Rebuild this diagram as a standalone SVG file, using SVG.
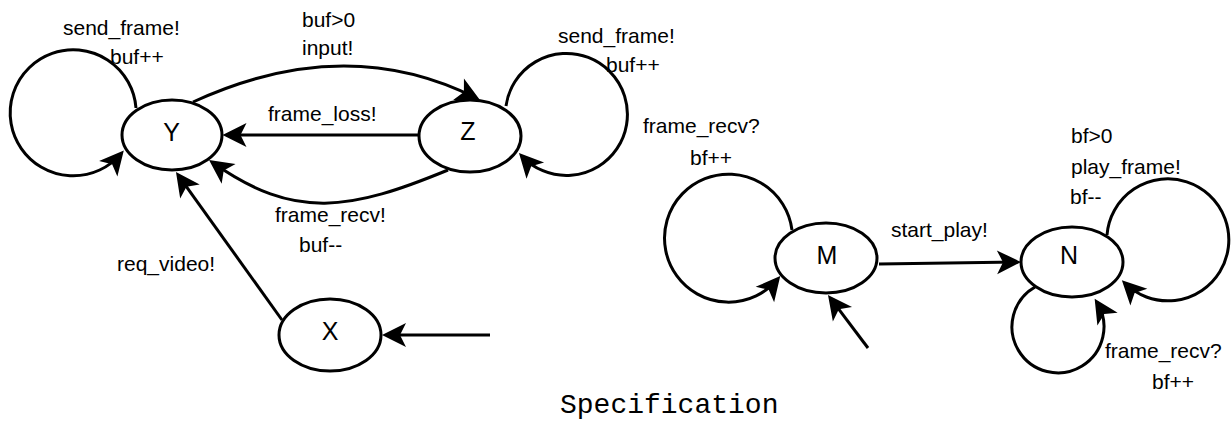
<svg xmlns="http://www.w3.org/2000/svg" width="1231" height="430" viewBox="0 0 1231 430">
  <style>
    .state ellipse { fill: #ffffff; stroke: #000000; stroke-width: 3; }
    .state text { font-family: "Liberation Sans", Arial, sans-serif; font-size: 25px; fill: #000000; text-anchor: middle; }
    .edge path { fill: none; stroke: #000000; stroke-width: 3; marker-end: url(#arrow); }
    .edge text, .lbl { font-family: "Liberation Sans", Arial, sans-serif; font-size: 21px; fill: #000000; }
    .title { font-family: "Liberation Mono", "Courier New", monospace; font-size: 28px; fill: #000000; }
  </style>
  <defs>
    <!-- notched arrowhead; its tip sits 4px beyond the path end -->
    <marker id="arrow" markerUnits="userSpaceOnUse" viewBox="-22 -13 28 26" markerWidth="28" markerHeight="26" refX="0" refY="0" orient="auto" overflow="visible">
      <path d="M4,0 L-20,-12 L-14,0 L-20,12 Z" fill="#000000"/>
    </marker>
  </defs>

  <rect x="0" y="0" width="1231" height="430" fill="#ffffff"/>

  <!-- states -->
  <g id="state-Y" class="state">
    <ellipse cx="172" cy="135" rx="50" ry="35"/>
    <text x="171.5" y="140.5">Y</text>
  </g>
  <g id="state-Z" class="state">
    <ellipse cx="470" cy="136" rx="51" ry="36"/>
    <text x="468" y="140">Z</text>
  </g>
  <g id="state-X" class="state">
    <ellipse cx="330" cy="335" rx="51" ry="36"/>
    <text x="330" y="340">X</text>
  </g>
  <g id="state-M" class="state">
    <ellipse cx="826" cy="258" rx="51" ry="35"/>
    <text x="827" y="264">M</text>
  </g>
  <g id="state-N" class="state">
    <ellipse cx="1072" cy="262" rx="51" ry="35"/>
    <text x="1069" y="263.5">N</text>
  </g>

  <!-- transitions -->
  <g id="connectors">
    <g id="edge-Y-Y" class="edge">
      <path d="M136,108 A63,63 0 1,0 121.2,153.6"/>
      <text x="63" y="35">send_frame!</text>
      <text x="110" y="64">buf++</text>
    </g>
    <g id="edge-Y-Z" class="edge">
      <path d="M193,102 Q345,32 476.4,98.2"/>
      <text x="302" y="27">buf&gt;0</text>
      <text x="302" y="55">input!</text>
    </g>
    <g id="edge-Z-Y-loss" class="edge">
      <path d="M419,135 L226.5,135"/>
      <text x="268" y="121">frame_loss!</text>
    </g>
    <g id="edge-Z-Y-recv" class="edge">
      <path d="M448,170 C351,210 295,221 212.3,162.3"/>
      <text x="275" y="221.5">frame_recv!</text>
      <text x="299" y="251.5">buf--</text>
    </g>
    <g id="edge-Z-Z" class="edge">
      <path d="M506,106 A61,61 0 1,1 521.7,155.9"/>
      <text x="558" y="43">send_frame!</text>
      <text x="606" y="71.5">buf++</text>
    </g>
    <g id="edge-X-Y" class="edge">
      <path d="M282,320 L178.3,175.3"/>
      <text x="117" y="271">req_video!</text>
    </g>
    <g id="edge-init-X" class="edge">
      <path d="M490,335 L386,335"/>
    </g>
    <g id="edge-M-M" class="edge">
      <path d="M792,230 A64,64 0 1,0 777.7,279.1"/>
      <text x="643" y="133">frame_recv?</text>
      <text x="690" y="165">bf++</text>
    </g>
    <g id="edge-init-M" class="edge">
      <path d="M868,348 L830.4,298.2"/>
    </g>
    <g id="edge-M-N" class="edge">
      <path d="M879,264 L1017,262.1"/>
      <text x="891" y="237">start_play!</text>
    </g>
    <g id="edge-N-N-play" class="edge">
      <path d="M1107,235 A61,61 0 1,1 1124.7,283"/>
      <text x="1071" y="143">bf&gt;0</text>
      <text x="1071" y="174">play_frame!</text>
      <text x="1070" y="204">bf--</text>
    </g>
    <g id="edge-N-N-recv" class="edge">
      <path d="M1035,287 A46,46 0 1,0 1096.8,302.2"/>
      <text x="1105" y="357.5">frame_recv?</text>
      <text x="1152" y="389">bf++</text>
    </g>
  </g>

  <text class="title" x="560" y="413">Specification</text>
</svg>
